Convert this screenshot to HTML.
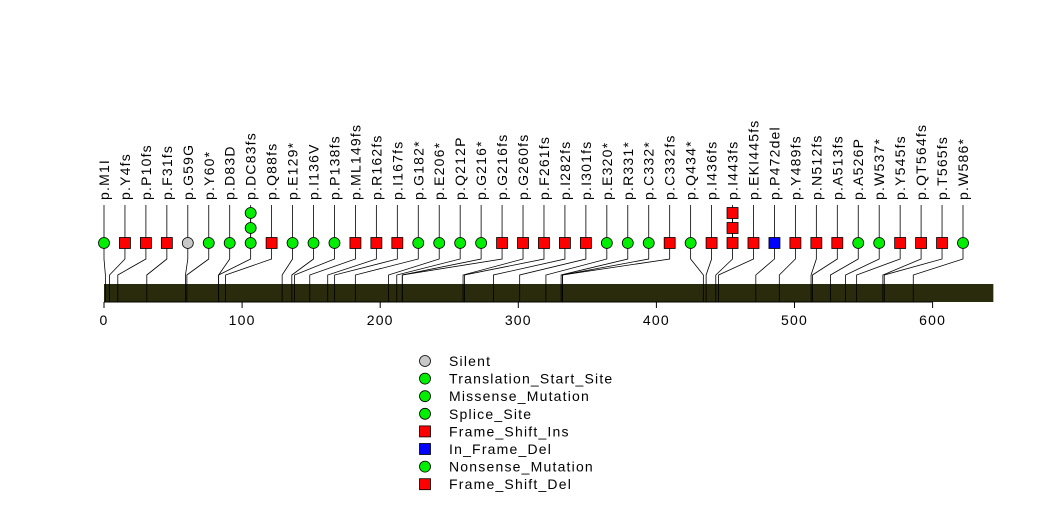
<!DOCTYPE html>
<html><head><meta charset="utf-8"><style>
html,body{margin:0;padding:0;background:#fff;}
svg{display:block;font-family:"Liberation Sans",sans-serif;}
text{letter-spacing:1.2px;}
</style></head><body>
<svg id="c" width="1047" height="524"></svg>
<script>
const labels=["p.M1I","p.Y4fs","p.P10fs","p.F31fs","p.G59G","p.Y60*","p.D83D","p.DC83fs","p.Q88fs","p.E129*","p.I136V","p.P138fs","p.ML149fs","p.R162fs","p.I167fs","p.G182*","p.E206*","p.Q212P","p.G216*","p.G216fs","p.G260fs","p.F261fs","p.I282fs","p.I301fs","p.E320*","p.R331*","p.C332*","p.C332fs","p.Q434*","p.I436fs","p.I443fs","p.EKI445fs","p.P472del","p.Y489fs","p.N512fs","p.A513fs","p.A526P","p.W537*","p.Y545fs","p.QT564fs","p.T565fs","p.W586*"];
const positions=[1,4,10,31,59,60,83,83,88,129,136,138,149,162,167,182,206,212,216,216,260,261,282,301,320,331,332,332,434,436,443,445,472,489,512,513,526,537,545,564,565,586];
const types=["c","s","s","s","g","c","c","c","s","c","c","c","s","s","s","c","c","c","c","s","s","s","s","s","c","c","c","s","c","s","s","s","b","s","s","s","c","c","s","s","s","c"];
const counts=[1,1,1,1,1,1,1,3,1,1,1,1,1,1,1,1,1,1,1,1,1,1,1,1,1,1,1,1,1,1,3,1,1,1,1,1,1,1,1,1,1,1];
const ticks=[0,100,200,300,400,500,600];
const proteinLength=644;
const legendNames=["Silent","Translation_Start_Site","Missense_Mutation","Splice_Site","Frame_Shift_Ins","In_Frame_Del","Nonsense_Mutation","Frame_Shift_Del"];
const legendTypes=["g","c","c","c","s","b","c","s"];

const svg=document.getElementById('c');
const NS="http://www.w3.org/2000/svg";
const x=v=>104+v*1.381;
const slotX=i=>104+i*(963-104)/(labels.length-1);
const fills={c:"#00ee00",s:"#ff0000",g:"#c8c8c8",b:"#0000ff"};
function el(t,a,p){const e=document.createElementNS(NS,t);for(const k in a)e.setAttribute(k,a[k]);(p||svg).appendChild(e);return e;}
function marker(t,cx,cy,g){
  if(t==="c"||t==="g") return el("ellipse",{cx:cx,cy:cy,rx:5.5,ry:5.5,fill:fills[t],stroke:"#000","stroke-width":0.8},g);
  return el("rect",{x:cx-5.5,y:cy-5.5,width:11,height:11,fill:fills[t],stroke:"#000","stroke-width":0.8},g);
}
const bar=el("rect",{x:x(0),y:284,width:x(proteinLength)-x(0),height:18,fill:"#2a2a0c"});


const axis=el("g",{});


el("line",{x1:x(0),x2:x(600),y1:302,y2:302,stroke:"#000"},axis);
ticks.forEach(t=>{
  el("line",{x1:x(t),x2:x(t),y1:302,y2:308,stroke:"#000"},axis);
  const tx=el("text",{x:x(t),y:325,"text-anchor":"middle","font-size":14},axis);
  tx.textContent=t;
});
labels.forEach((l,i)=>{
  const g=el("g",{});
  
  
  const sx=slotX(i),px=x(positions[i]);
  el("polyline",{points:`${sx},205 ${sx},259 ${px},275 ${px},302`,fill:"none",stroke:"#000","stroke-width":0.8},g);
  for(let k=counts[i]-1;k>=0;k--){
    if(k>0) el("line",{x1:sx,x2:sx,y1:243-15*k,y2:243-15*(k-1),stroke:"#000","stroke-width":0.8},g);
    marker(types[i],sx,243-15*k,g);
  }
  const tx=el("text",{x:0,y:0,"font-size":14,transform:`translate(${sx+5},200) rotate(-90)`},g);
  tx.textContent=l;
});
const lg=el("g",{});


legendNames.forEach((n,i)=>{
  const y=361+17.6*i;
  const e=el("g",{},lg);
  
  
  marker(legendTypes[i],425,y,e);
  const tx=el("text",{x:449,y:y+5,"font-size":14},e);
  tx.textContent=n;
});
</script>
</body></html>
